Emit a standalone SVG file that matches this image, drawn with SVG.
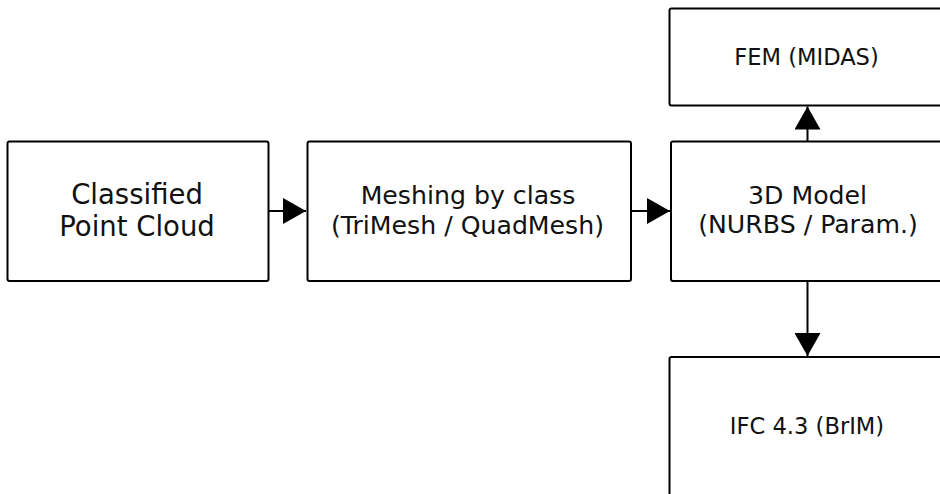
<svg xmlns="http://www.w3.org/2000/svg" width="940" height="494" viewBox="0 0 940 494">
<defs>
<style>
.box{fill:#fff;stroke:#000;stroke-width:2}
.t{font-family:"DejaVu Sans",sans-serif;fill:#111;text-anchor:middle}
.edge{stroke:#000;stroke-width:2;fill:none}
</style>
<marker id="ah" markerUnits="userSpaceOnUse" markerWidth="24" markerHeight="26" refX="23" refY="13" orient="auto" viewBox="0 0 24 26">
<polygon points="0,0 23,13 0,26" fill="#000"/>
</marker>
</defs>
<rect width="940" height="494" fill="#fff"/>
<g id="connectors">
<line class="edge" x1="268" y1="211" x2="306" y2="211" marker-end="url(#ah)"/>
<line class="edge" x1="631" y1="211" x2="670" y2="211" marker-end="url(#ah)"/>
<line class="edge" x1="807.5" y1="141" x2="807.5" y2="106.5" marker-end="url(#ah)"/>
<line class="edge" x1="807.5" y1="281" x2="807.5" y2="356" marker-end="url(#ah)"/>
</g>
<g id="node-pointcloud">
<rect class="box" x="7.5" y="141.5" width="261" height="139.5" rx="2"/>
<text class="t" font-size="27.5" x="137" y="204">Classified</text>
<text class="t" font-size="27.5" x="137" y="236">Point Cloud</text>
</g>
<g id="node-meshing">
<rect class="box" x="307.5" y="141.5" width="323.5" height="139.5" rx="2"/>
<text class="t" font-size="25.2" x="468" y="204">Meshing by class</text>
<text class="t" font-size="25.2" x="467.5" y="234">(TriMesh / QuadMesh)</text>
</g>
<g id="node-3dmodel">
<rect class="box" x="671" y="141.5" width="274" height="139.5" rx="2"/>
<text class="t" font-size="25.2" x="807.5" y="204">3D Model</text>
<text class="t" font-size="25.2" x="808" y="233">(NURBS / Param.)</text>
</g>
<g id="node-fem">
<rect class="box" x="669.5" y="8.5" width="276" height="97" rx="2"/>
<text class="t" font-size="22.6" x="806.5" y="64.5">FEM (MIDAS)</text>
</g>
<g id="node-ifc">
<rect class="box" x="669.5" y="357" width="276" height="145" rx="2"/>
<text class="t" font-size="22.6" x="807" y="434">IFC 4.3 (BrIM)</text>
</g>
</svg>
